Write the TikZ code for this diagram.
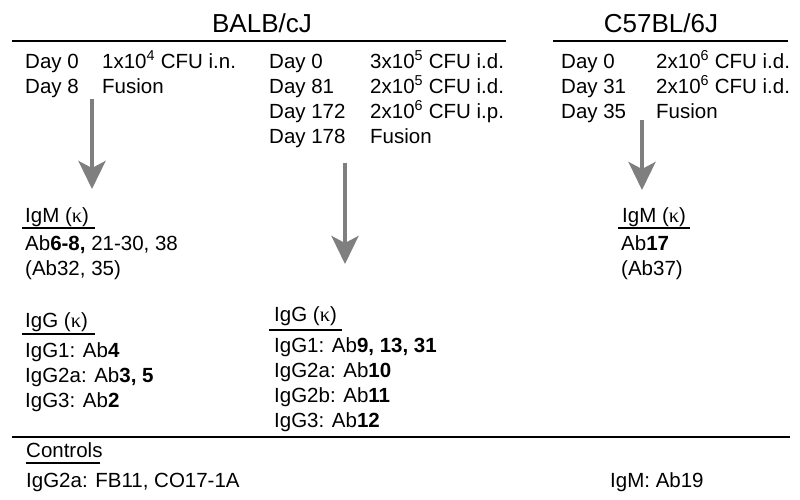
\documentclass[tikz,border=0pt]{standalone}
\usepackage{fontspec}
\setmainfont{Liberation Sans}
\newfontfamily\kfont{Liberation Serif}
\usetikzlibrary{arrows.meta}
\definecolor{arrgray}{HTML}{7F7F7F}
\tikzset{
  txt/.style={anchor=base west, inner sep=0pt, font=\fontsize{20.5}{22}\selectfont},
  ttl/.style={anchor=base, inner sep=0pt, font=\fontsize{26}{28}\selectfont},
  rule/.style={line width=2pt, black},
  uline/.style={line width=1.6pt, black},
  bigarrow/.style={draw=arrgray, line width=4pt, -{Stealth[width=27pt,length=28pt,inset=7pt]}, fill=arrgray}
}
\newcommand{\kp}{({\kfont κ})}
\begin{document}
\begin{tikzpicture}[x=1pt,y=-1pt]
\useasboundingbox (0,0) rectangle (800,499);
% titles
\node[ttl] (balb) at (262,32) {BALB/cJ};
\node[ttl] (c57) at (661,32) {C57BL/6J};
\draw[rule] (12,41) -- (506,41);
\draw[rule] (553,41) -- (788,41);
% left column
\node[txt] (l1a) at (25,68) {Day 0};
\node[txt] (l1b) at (102,68) {1x10\textsuperscript{4} CFU i.n.};
\node[txt] (l2a) at (25,93) {Day 8};
\node[txt] (l2b) at (102,93) {Fusion};
% middle column
\node[txt] (m1a) at (269,68) {Day 0};
\node[txt] (m1b) at (370,68) {3x10\textsuperscript{5} CFU i.d.};
\node[txt] (m2a) at (269,93) {Day 81};
\node[txt] (m2b) at (370,93) {2x10\textsuperscript{5} CFU i.d.};
\node[txt] (m3a) at (269,118) {Day 172};
\node[txt] (m3b) at (370,118) {2x10\textsuperscript{6} CFU i.p.};
\node[txt] (m4a) at (269,143) {Day 178};
\node[txt] (m4b) at (370,143) {Fusion};
% right column
\node[txt] (r1a) at (561,68) {Day 0};
\node[txt] (r1b) at (656,68) {2x10\textsuperscript{6} CFU i.d.};
\node[txt] (r2a) at (561,93) {Day 31};
\node[txt] (r2b) at (656,93) {2x10\textsuperscript{6} CFU i.d.};
\node[txt] (r3a) at (561,118) {Day 35};
\node[txt] (r3b) at (656,118) {Fusion};
% arrows
\coordinate (la0) at (92,99);
\coordinate (la1) at (92,189);
\coordinate (ma0) at (345,163);
\coordinate (ma1) at (345,264);
\coordinate (ra0) at (642,120);
\coordinate (ra1) at (642,190);
\draw[bigarrow] (la0) -- (la1);
\draw[bigarrow] (ma0) -- (ma1);
\draw[bigarrow] (ra0) -- (ra1);
% left IgM
\node[txt] (lgm) at (25,222) {IgM \kp};
\draw[uline] (22,228) -- (95,228);
\node[txt] (lgm1) at (25,250) {Ab\textbf{6-8,} 21-30, 38};
\node[txt] (lgm2) at (25,275) {(Ab32, 35)};
% left IgG
\node[txt] (lgg) at (25,327) {IgG \kp};
\draw[uline] (22,334) -- (95,334);
\node[txt] (lgg1) at (25,357) {IgG1: Ab\textbf{4}};
\node[txt] (lgg2) at (25,382) {IgG2a: Ab\textbf{3, 5}};
\node[txt] (lgg3) at (25,407) {IgG3: Ab\textbf{2}};
% middle IgG
\node[txt] (mgg) at (274,321) {IgG \kp};
\draw[uline] (269,330) -- (342,330);
\node[txt] (mgg1) at (274,352) {IgG1: Ab\textbf{9, 13, 31}};
\node[txt] (mgg2) at (274,377) {IgG2a: Ab\textbf{10}};
\node[txt] (mgg3) at (274,402) {IgG2b: Ab\textbf{11}};
\node[txt] (mgg4) at (274,427) {IgG3: Ab\textbf{12}};
% right IgM
\node[txt] (rgm) at (622,222) {IgM \kp};
\draw[uline] (618,228) -- (690,228);
\node[txt] (rgm1) at (621,250) {Ab\textbf{17}};
\node[txt] (rgm2) at (621,275) {(Ab37)};
% bottom rule and controls
\draw[rule] (12,437) -- (790,437);
\node[txt] (ctl) at (26,457) {Controls};
\draw[uline] (26,463) -- (100,463);
\node[txt] (ctl1) at (26,487) {IgG2a: FB11, CO17-1A};
\node[txt] (ctl2) at (610,487) {IgM: Ab19};
\end{tikzpicture}
\end{document}
